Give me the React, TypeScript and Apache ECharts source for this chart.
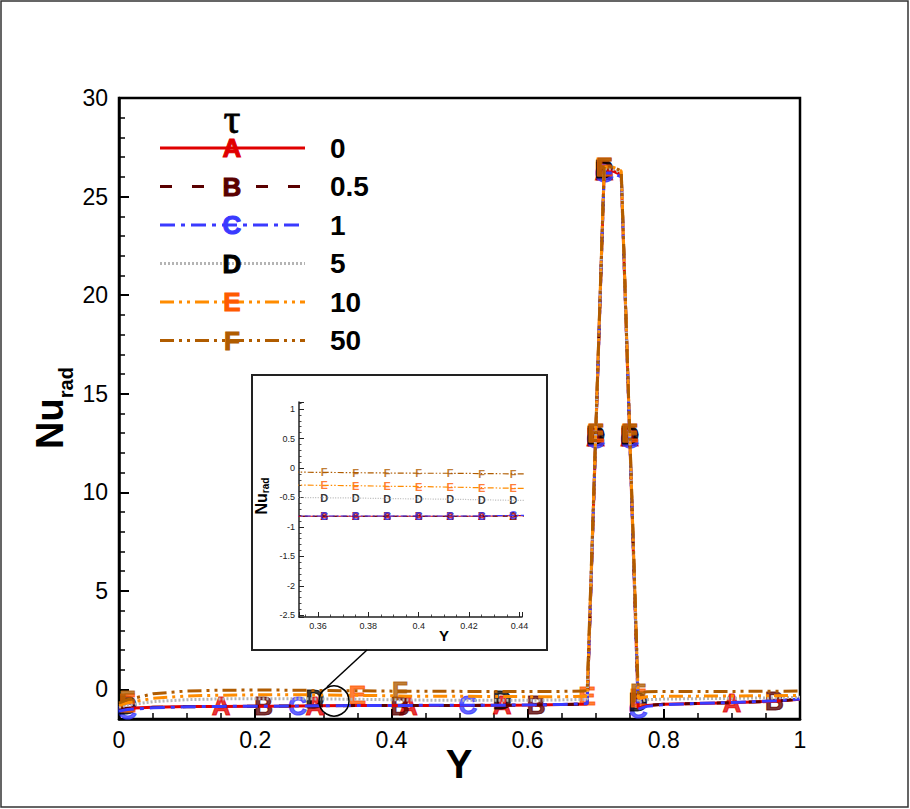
import React, { useEffect, useRef } from 'react';
import * as echarts from 'echarts';

// ---------- data ----------
const TAU_LABELS = ['0', '0.5', '1', '5', '10', '50'];
const LETTERS = ['A', 'B', 'C', 'D', 'E', 'F'];

const Y_POS = [0, 0.0125, 0.05, 0.1, 0.15, 0.2125, 0.2625, 0.2875, 0.35, 0.4125, 0.425, 0.5125, 0.5625, 0.6125, 0.65, 0.6875, 0.7, 0.7125, 0.725, 0.7375, 0.75, 0.7625, 0.775, 0.8, 0.85, 0.9, 0.9625, 1];

const NU_A = [-1.0, -0.95, -0.9, -0.87, -0.86, -0.85, -0.84, -0.83, -0.82, -0.82, -0.82, -0.81, -0.8, -0.79, -0.77, -0.74, 12.8, 26.3, 26.3, 26.1, 12.8, -0.95, -0.82, -0.75, -0.71, -0.67, -0.6, -0.5];
const NU_B = [-1.0, -0.96, -0.91, -0.88, -0.86, -0.85, -0.84, -0.83, -0.82, -0.82, -0.82, -0.81, -0.8, -0.79, -0.77, -0.74, 12.8, 26.3, 26.3, 26.1, 12.8, -0.95, -0.82, -0.75, -0.71, -0.67, -0.6, -0.5];
const NU_C = [-1.1, -1.02, -0.93, -0.88, -0.86, -0.85, -0.84, -0.83, -0.82, -0.81, -0.81, -0.8, -0.8, -0.78, -0.76, -0.72, 12.7, 26.2, 26.2, 26.0, 12.7, -1.0, -0.86, -0.77, -0.71, -0.66, -0.58, -0.48];
const NU_D = [-0.9, -0.8, -0.62, -0.52, -0.48, -0.47, -0.47, -0.48, -0.5, -0.53, -0.54, -0.55, -0.55, -0.55, -0.53, -0.5, 12.9, 26.4, 26.4, 26.2, 12.9, -0.65, -0.52, -0.49, -0.47, -0.45, -0.43, -0.4];
const NU_E = [-0.8, -0.68, -0.45, -0.33, -0.29, -0.27, -0.27, -0.28, -0.3, -0.33, -0.34, -0.35, -0.36, -0.37, -0.37, -0.35, 13.0, 26.5, 26.5, 26.3, 13.0, -0.45, -0.37, -0.35, -0.34, -0.33, -0.32, -0.3];
const NU_F = [-0.7, -0.52, -0.22, -0.08, -0.04, -0.03, -0.04, -0.05, -0.07, -0.09, -0.09, -0.1, -0.1, -0.1, -0.1, -0.08, 13.0, 26.5, 26.5, 26.3, 13.0, -0.2, -0.12, -0.1, -0.1, -0.1, -0.09, -0.08];

const MARK_A = [0.15, 0.2875, 0.425, 0.5625, 0.7, 0.7125, 0.75, 0.9];
const MARK_B = [0.2125, 0.4125, 0.6125, 0.7, 0.7125, 0.75, 0.9625];
const MARK_C = [0.0125, 0.2625, 0.5125, 0.7, 0.7125, 0.75, 0.7625];
const MARK_D = [0.0125, 0.2875, 0.5625, 0.7, 0.7125, 0.75, 0.7625];
const MARK_E = [0.0125, 0.35, 0.6875, 0.7, 0.7125, 0.75, 0.7625];
const MARK_F = [0.0125, 0.4125, 0.7, 0.7125, 0.75, 0.7625];

// inset (zoom of 0.35 - 0.44)
const INSET_Y_POS = [0.35, 0.3625, 0.375, 0.3875, 0.4, 0.4125, 0.425, 0.4375, 0.45];
const INSET_A = [-0.82, -0.82, -0.82, -0.82, -0.82, -0.82, -0.82, -0.81, -0.81];
const INSET_B = [-0.82, -0.82, -0.82, -0.82, -0.82, -0.82, -0.82, -0.815, -0.815];
const INSET_C = [-0.815, -0.815, -0.815, -0.815, -0.815, -0.815, -0.815, -0.805, -0.805];
const INSET_D = [-0.5, -0.505, -0.51, -0.52, -0.525, -0.53, -0.54, -0.55, -0.555];
const INSET_E = [-0.29, -0.295, -0.3, -0.31, -0.315, -0.325, -0.335, -0.345, -0.35];
const INSET_F = [-0.07, -0.075, -0.08, -0.085, -0.09, -0.09, -0.095, -0.1, -0.1];
const INSET_MARKS = [0.3625, 0.375, 0.3875, 0.4, 0.4125, 0.425, 0.4375];

const NU = [NU_A, NU_B, NU_C, NU_D, NU_E, NU_F];
const MARKS = [MARK_A, MARK_B, MARK_C, MARK_D, MARK_E, MARK_F];
const INSET = [INSET_A, INSET_B, INSET_C, INSET_D, INSET_E, INSET_F];

// ---------- styles ----------
const FONT = 'Liberation Sans, Arial, Helvetica, sans-serif';
const LINE_COLORS = ['#e00000', '#5a0000', '#3a3aff', '#b4b4b4', '#ff8c00', '#b05c00'];
const LETTER_COLORS = ['#e00000', '#5a0000', '#3a3aff', '#000000', '#ff5a00', '#b05c00'];
const DASH: any[] = ['solid', [12, 20], [15, 6, 4, 6], [2, 2], [14, 5, 3, 5, 3, 5], [14, 5, 3, 5, 3, 5]];
const INSET_DASH: any[] = ['solid', [5, 5], [6, 2, 2, 2], [1, 1.5], [6, 2, 1.5, 2, 1.5, 2], [6, 2, 1.5, 2, 1.5, 2]];

function buildOption() {
  const series: any[] = [];
  for (let i = 0; i < 6; i++) {
    series.push({
      type: 'line',
      xAxisIndex: 0,
      yAxisIndex: 0,
      data: Y_POS.map((x, j) => [x, NU[i][j]]),
      showSymbol: false,
      symbol: 'none',
      silent: true,
      lineStyle: { color: LINE_COLORS[i], width: 3, type: DASH[i], cap: 'butt' },
    });
    series.push({
      type: 'scatter',
      xAxisIndex: 0,
      yAxisIndex: 0,
      data: MARKS[i].map((m) => [m, NU[i][Y_POS.indexOf(m)]]),
      symbol: 'rect',
      symbolSize: 1,
      silent: true,
      itemStyle: { color: 'rgba(0,0,0,0)' },
      label: {
        show: true,
        position: 'inside',
        formatter: LETTERS[i],
        color: LETTER_COLORS[i],
        fontSize: 26,
        fontWeight: 'bold',
        fontFamily: FONT,
        textBorderColor: LETTER_COLORS[i],
        textBorderWidth: 1,
      },
    });
  }
  for (let i = 0; i < 6; i++) {
    series.push({
      type: 'line',
      xAxisIndex: 1,
      yAxisIndex: 1,
      data: INSET_Y_POS.map((x, j) => [x, INSET[i][j]]),
      showSymbol: false,
      symbol: 'none',
      silent: true,
      clip: true,
      lineStyle: { color: LINE_COLORS[i], width: 1.2, type: INSET_DASH[i], cap: 'butt' },
    });
    series.push({
      type: 'scatter',
      xAxisIndex: 1,
      yAxisIndex: 1,
      data: INSET_MARKS.map((m) => [m, INSET[i][INSET_Y_POS.indexOf(m)]]),
      symbol: 'rect',
      symbolSize: 1,
      silent: true,
      itemStyle: { color: 'rgba(0,0,0,0)' },
      label: {
        show: true,
        position: 'inside',
        formatter: LETTERS[i],
        color: LETTER_COLORS[i],
        fontSize: 11,
        fontWeight: 'bold',
        fontFamily: FONT,
      },
    });
  }

  const legendEls: any[] = [];
  for (let i = 0; i < 6; i++) {
    const y = 148 + i * 38.5;
    legendEls.push({
      type: 'line',
      shape: { x1: 160, y1: y, x2: 305, y2: y },
      style: {
        stroke: LINE_COLORS[i],
        lineWidth: 3,
        lineDash: DASH[i] === 'solid' ? null : DASH[i],
      },
    });
    legendEls.push({
      type: 'text',
      x: 232,
      y: y,
      style: {
        text: LETTERS[i],
        fontSize: 26,
        fontWeight: 'bold',
        fontFamily: FONT,
        fill: LETTER_COLORS[i],
        stroke: LETTER_COLORS[i],
        lineWidth: 1,
        align: 'center',
        verticalAlign: 'middle',
      },
    });
    legendEls.push({
      type: 'text',
      x: 330,
      y: y,
      style: {
        text: TAU_LABELS[i],
        fontSize: 28,
        fontWeight: 'bold',
        fontFamily: FONT,
        fill: '#000',
        align: 'left',
        verticalAlign: 'middle',
      },
    });
  }

  const graphic: any[] = [
    {
      type: 'rect',
      shape: { x: 1, y: 1, width: 907, height: 806 },
      style: { fill: 'none', stroke: '#333', lineWidth: 1.5 },
    },
    {
      type: 'rect',
      shape: { x: 252, y: 375, width: 295, height: 275 },
      style: { fill: 'none', stroke: '#222', lineWidth: 2 },
    },
    {
      type: 'circle',
      shape: { cx: 334, cy: 701, r: 15 },
      style: { fill: 'none', stroke: '#000', lineWidth: 1.5 },
      z: 100,
    },
    {
      type: 'line',
      shape: { x1: 327, y1: 687, x2: 367, y2: 650 },
      style: { stroke: '#000', lineWidth: 1.5 },
      z: 100,
    },
    {
      type: 'text',
      x: 232,
      y: 119,
      style: {
        text: 'τ',
        fontSize: 42,
        fontFamily: 'Liberation Serif, DejaVu Serif, serif',
        fill: '#000',
        stroke: '#000',
        lineWidth: 0.8,
        align: 'center',
        verticalAlign: 'middle',
      },
    },
    {
      type: 'text',
      x: 50,
      y: 408,
      rotation: Math.PI / 2,
      style: {
        text: '{a|Nu}{b|rad}',
        align: 'center',
        verticalAlign: 'middle',
        rich: {
          a: { fontSize: 38, fontWeight: 'bold', fontFamily: FONT, fill: '#000', lineHeight: 44 },
          b: { fontSize: 20, fontWeight: 'bold', fontFamily: FONT, fill: '#000', lineHeight: 20, padding: [32, 0, 0, 0] },
        },
      },
    },
    {
      type: 'text',
      x: 459,
      y: 764,
      style: {
        text: 'Y',
        fontSize: 40,
        fontWeight: 'bold',
        fontFamily: FONT,
        fill: '#000',
        align: 'center',
        verticalAlign: 'middle',
      },
    },
    {
      type: 'text',
      x: 261,
      y: 496,
      rotation: Math.PI / 2,
      style: {
        text: '{a|Nu}{b|rad}',
        align: 'center',
        verticalAlign: 'middle',
        rich: {
          a: { fontSize: 16, fontWeight: 'bold', fontFamily: FONT, fill: '#000', lineHeight: 18 },
          b: { fontSize: 10, fontWeight: 'bold', fontFamily: FONT, fill: '#000', lineHeight: 10, padding: [8, 0, 0, 0] },
        },
      },
    },
    {
      type: 'text',
      x: 444,
      y: 635,
      style: {
        text: 'Y',
        fontSize: 15,
        fontWeight: 'bold',
        fontFamily: FONT,
        fill: '#000',
        align: 'center',
        verticalAlign: 'middle',
      },
    },
    ...legendEls,
  ];

  return {
    animation: false,
    backgroundColor: '#fff',
    grid: [
      {
        left: 119,
        top: 98,
        width: 681,
        height: 621,
        show: true,
        borderColor: '#000',
        borderWidth: 2.5,
        backgroundColor: 'transparent',
        containLabel: false,
        outerBoundsMode: 'none',
      },
      {
        left: 299,
        top: 402,
        width: 223,
        height: 215,
        show: false,
        containLabel: false,
        outerBoundsMode: 'none',
      },
    ],
    xAxis: [
      {
        type: 'value',
        gridIndex: 0,
        min: 0,
        max: 1,
        interval: 0.2,
        axisLine: { show: true, onZero: false, lineStyle: { color: '#000', width: 2.5 } },
        axisTick: { show: true, inside: true, length: 10, lineStyle: { color: '#000', width: 2 } },
        minorTick: { show: true, splitNumber: 4, length: 6, lineStyle: { color: '#000', width: 1.5 } },
        splitLine: { show: false },
        minorSplitLine: { show: false },
        axisLabel: { fontSize: 23, color: '#000', fontFamily: FONT, margin: 9 },
      },
      {
        type: 'value',
        gridIndex: 1,
        min: 0.3525,
        max: 0.441,
        splitNumber: 5,
        axisLine: { show: true, onZero: false, lineStyle: { color: '#222', width: 1.5 } },
        axisTick: { show: true, inside: true, length: 5, lineStyle: { color: '#222', width: 1 } },
        minorTick: { show: true, splitNumber: 4, length: 2.5, lineStyle: { color: '#222', width: 0.8 } },
        splitLine: { show: false },
        axisLabel: {
          fontSize: 9,
          color: '#222',
          fontFamily: FONT,
          margin: 4,
          formatter: (v: number) => {
            const k = v / 0.02;
            if (Math.abs(k - Math.round(k)) > 1e-6) return '';
            return String(parseFloat((Math.round(k) * 0.02).toFixed(2)));
          },
        },
      },
    ],
    yAxis: [
      {
        type: 'value',
        gridIndex: 0,
        min: -1.5,
        max: 30,
        splitNumber: 6,
        axisLine: { show: true, onZero: false, lineStyle: { color: '#000', width: 2.5 } },
        axisTick: { show: true, inside: true, length: 10, lineStyle: { color: '#000', width: 2 } },
        minorTick: { show: true, splitNumber: 5, length: 6, lineStyle: { color: '#000', width: 1.5 } },
        splitLine: { show: false },
        minorSplitLine: { show: false },
        axisLabel: {
          fontSize: 23,
          color: '#000',
          fontFamily: FONT,
          margin: 11,
          formatter: (v: number) => {
            const k = v / 5;
            if (Math.abs(k - Math.round(k)) > 1e-6) return '';
            return String(Math.round(k) * 5);
          },
        },
      },
      {
        type: 'value',
        gridIndex: 1,
        min: -2.53,
        max: 1.12,
        splitNumber: 7,
        axisLine: { show: true, onZero: false, lineStyle: { color: '#222', width: 1.5 } },
        axisTick: { show: true, inside: true, length: 5, lineStyle: { color: '#222', width: 1 } },
        minorTick: { show: true, splitNumber: 5, length: 2.5, lineStyle: { color: '#222', width: 0.8 } },
        splitLine: { show: false },
        axisLabel: {
          fontSize: 9,
          color: '#222',
          fontFamily: FONT,
          margin: 4,
          formatter: (v: number) => {
            const k = v * 2;
            if (Math.abs(k - Math.round(k)) > 1e-6) return '';
            return String(Math.round(k) / 2);
          },
        },
      },
    ],
    graphic: { elements: graphic },
    series,
  };
}

export default function App() {
  const ref = useRef<HTMLDivElement>(null);
  useEffect(() => {
    if (!ref.current) return;
    const chart = echarts.init(ref.current, null, { renderer: 'svg' });
    chart.setOption(buildOption() as any);
    return () => chart.dispose();
  }, []);
  return (
    <div
      ref={ref}
      style={{ position: 'fixed', left: 0, top: 0, width: 910, height: 809, background: '#fff' }}
    />
  );
}
